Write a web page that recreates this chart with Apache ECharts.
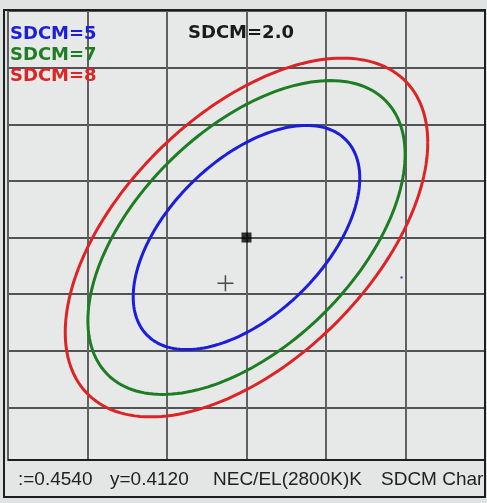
<!DOCTYPE html>
<html>
<head>
<meta charset="utf-8">
<script src="https://cdn.jsdelivr.net/npm/echarts@6/dist/echarts.min.js"></script>
<style>
html,body{margin:0;padding:0;background:#dfe3e3;}
#c{width:487px;height:503px;}
</style>
</head>
<body>
<div id="c"></div>
<script>
// ---- data ----
const sdcmSteps = [5, 7, 8];
const sdcmNames = ['SDCM=5', 'SDCM=7', 'SDCM=8'];
const sdcmColors = ['#1c1ed8', '#1e7d23', '#dc2426'];
const ellipseCenter = [0.4540, 0.4120];            // chromaticity x, y (status bar)
const oneStepSemiAxisU = [0.000570, 0.000419];
const oneStepSemiAxisV = [0.0, 0.000672];
const crossPoint = [0.45347, 0.41038];
const strayDot = [0.45790, 0.41059];
const xTicks = [0.448, 0.460, 0.002];   // min, max, interval
const yTicks = [0.404, 0.420, 0.002];
const statusTexts = [':=0.4540', 'y=0.4120', 'NEC/EL(2800K)K', 'SDCM Char'];
const titleText = 'SDCM=2.0';

function ellipsePoints(n) {
  const pts = [];
  const N = 180;
  for (let i = 0; i <= N; i++) {
    const t = 2 * Math.PI * i / N;
    pts.push([
      ellipseCenter[0] + n * (oneStepSemiAxisU[0] * Math.cos(t) + oneStepSemiAxisV[0] * Math.sin(t)),
      ellipseCenter[1] + n * (oneStepSemiAxisU[1] * Math.cos(t) + oneStepSemiAxisV[1] * Math.sin(t))
    ]);
  }
  return pts;
}

const chart = echarts.init(document.getElementById('c'), null, {renderer: 'canvas'});

const series = sdcmSteps.map((n, i) => ({
  name: sdcmNames[i],
  type: 'line',
  data: ellipsePoints(n),
  showSymbol: false,
  smooth: false,
  silent: true,
  lineStyle: {color: sdcmColors[i], width: 3},
  itemStyle: {color: sdcmColors[i]},
  z: 3
}));

series.push({
  type: 'scatter',
  data: [ellipseCenter],
  symbol: 'rect',
  symbolSize: 10,
  itemStyle: {color: '#000'},
  silent: true,
  z: 5
});
series.push({
  type: 'scatter',
  data: [crossPoint],
  symbol: 'path://M0,8L16,8M8,0L8,16',
  symbolSize: 16,
  itemStyle: {color: 'none', borderColor: '#222', borderWidth: 1.5},
  silent: true,
  z: 5
});
series.push({
  type: 'scatter',
  data: [strayDot],
  symbol: 'circle',
  symbolSize: 2.5,
  itemStyle: {color: '#2233cc'},
  silent: true,
  z: 5
});

const statusX = [18, 110, 213, 381];

chart.setOption({
  backgroundColor: '#dfe3e3',
  animation: false,
  title: {
    text: titleText,
    left: 183,
    top: 19,
    textStyle: {fontFamily: 'DejaVu Sans', fontWeight: 'bold', fontSize: 18, color: '#1a1a1a'}
  },
  legend: {
    orient: 'vertical',
    left: 0,
    top: 20,
    icon: 'none',
    itemWidth: 0,
    itemHeight: 18,
    itemGap: 3,
    selectedMode: false,
    data: sdcmNames.map((n, i) => ({name: n, textStyle: {color: sdcmColors[i]}})),
    textStyle: {fontFamily: 'DejaVu Sans', fontWeight: 'bold', fontSize: 18, lineHeight: 18}
  },
  grid: {
    left: 8, top: 11, width: 477, height: 453,
    show: true,
    backgroundColor: '#e6e9e8',
    borderColor: '#1e1e1e',
    borderWidth: 2
  },
  xAxis: {
    type: 'value',
    min: xTicks[0], max: xTicks[1], interval: xTicks[2],
    axisLabel: {show: false},
    axisTick: {show: false},
    axisLine: {show: false},
    splitLine: {show: true, lineStyle: {color: '#606262', width: 2}}
  },
  yAxis: {
    type: 'value',
    min: yTicks[0], max: yTicks[1], interval: yTicks[2],
    axisLabel: {show: false},
    axisTick: {show: false},
    axisLine: {show: false},
    splitLine: {show: true, lineStyle: {color: '#525454', width: 2}}
  },
  graphic: [
    {
      type: 'rect',
      shape: {x: 4, y: 461, width: 481, height: 36},
      style: {fill: '#e3e6e5'},
      z: 100
    },
    {
      type: 'line',
      shape: {x1: 8, y1: 460, x2: 485, y2: 460},
      style: {stroke: '#1e1e1e', lineWidth: 2},
      z: 101
    },
    {
      type: 'rect',
      shape: {x: 4, y: 10, width: 481, height: 487},
      style: {fill: 'none', stroke: '#1e1e1e', lineWidth: 2},
      z: 101
    }
  ].concat(statusTexts.map((t, i) => ({
    type: 'text',
    x: statusX[i],
    y: 480,
    style: {
      text: t,
      font: '19px "Liberation Sans", Arial, sans-serif',
      fill: '#222',
      verticalAlign: 'middle'
    },
    z: 102
  }))),
  series: series
});
</script>
</body>
</html>
